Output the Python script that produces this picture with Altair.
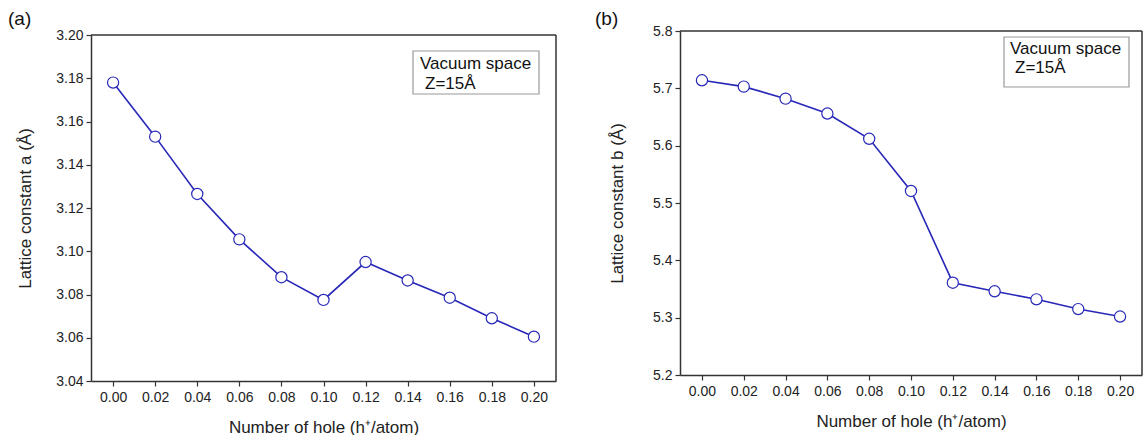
import altair as alt
import pandas as pd

holes = [0.00, 0.02, 0.04, 0.06, 0.08, 0.10, 0.12, 0.14, 0.16, 0.18, 0.20]
lattice_a = [3.178, 3.153, 3.1265, 3.1055, 3.088, 3.0775, 3.095, 3.0865, 3.0785, 3.069, 3.0605]
lattice_b = [5.714, 5.703, 5.682, 5.656, 5.612, 5.521, 5.361, 5.346, 5.332, 5.315, 5.302]

x_ticks = [round(i * 0.01, 2) for i in range(0, 21)]
a_ticks = [round(3.04 + i * 0.01, 2) for i in range(0, 17)]
b_ticks = [round(5.2 + i * 0.05, 2) for i in range(0, 13)]

FONT = "Liberation Sans"
LINE = "#2727b8"
DARK = "#333333"


def is_major(step):
    return f"abs(datum.value/{step} - round(datum.value/{step})) < 0.001"


def panel(yvals, ydom, yticks, ystep, yfmt, ytitle, tag, tag_x, tag_dy,
          box, txt, w, h, top, ytp):
    df = pd.DataFrame({"x": holes, "y": yvals})
    one = pd.DataFrame({"k": [0]})
    xscale = alt.Scale(domain=[-0.0105, 0.2105], nice=False, zero=False)
    yscale = alt.Scale(domain=ydom, nice=False, zero=False, range=[h, top])
    xaxis = alt.Axis(
        values=x_ticks,
        labelExpr=f"{is_major(0.02)} ? format(datum.value, '.2f') : ''",
        tickSize={"condition": {"test": is_major(0.02), "value": 5}, "value": 3},
        labelOverlap=False, labelFlush=False, grid=False,
        title="Number of hole (h\u207a/atom)", titlePadding=15,
        labelPadding=4,
    )
    yaxis = alt.Axis(
        values=yticks,
        labelExpr=f"{is_major(ystep)} ? format(datum.value, '{yfmt}') : ''",
        tickSize={"condition": {"test": is_major(ystep), "value": 5}, "value": 3},
        labelOverlap=False, labelFlush=False, grid=False,
        title=ytitle, titlePadding=ytp, labelPadding=3,
    )
    base = alt.Chart(df)
    ann = alt.Chart(one)
    line = base.mark_line(color=LINE, strokeWidth=1.6).encode(
        x=alt.X("x:Q", scale=xscale, axis=xaxis),
        y=alt.Y("y:Q", scale=yscale, axis=yaxis),
    )
    pts = base.mark_point(shape="circle", filled=True, fill="white", stroke=LINE,
                          strokeWidth=1.2, size=125, opacity=1).encode(
        x=alt.X("x:Q", scale=xscale),
        y=alt.Y("y:Q", scale=yscale),
    )
    top_rule = ann.mark_rule(color=DARK, strokeWidth=1.5).encode(
        x=alt.value(0), x2=alt.value(w), y=alt.value(top))
    right_rule = ann.mark_rule(color=DARK, strokeWidth=1.5).encode(
        x=alt.value(w), y=alt.value(top), y2=alt.value(h))
    rect = ann.mark_rect(fill="white", stroke="#999999", strokeWidth=1.2).encode(
        x=alt.value(box[0]), x2=alt.value(box[1]),
        y=alt.value(box[2]), y2=alt.value(box[3]),
    )
    t1 = ann.mark_text(text="Vacuum space", align="left", baseline="middle",
                       font=FONT, fontSize=17, fontWeight="normal", color="#111111").encode(
        x=alt.value(txt[0]), y=alt.value(txt[1]))
    t2 = ann.mark_text(text="Z=15\u00c5", align="left", baseline="middle",
                       font=FONT, fontSize=17, fontWeight="normal", color="#111111").encode(
        x=alt.value(txt[0] + 5), y=alt.value(txt[2]))
    lab = ann.mark_text(text=tag, align="left", baseline="middle",
                        font=FONT, fontSize=19, fontWeight="normal", color="#111111").encode(
        x=alt.value(tag_x), y=alt.value(tag_dy))
    return alt.layer(line, pts, top_rule, right_rule, rect, t1, t2, lab).properties(
        width=w, height=h)


left = panel(lattice_a, [3.04, 3.20], a_ticks, 0.02, ".2f",
             "Lattice constant a (\u00c5)", "(a)", -83, -12,
             (322, 448, 20, 63), (329, 33, 53), 465, 350, 4, 21)
right = panel(lattice_b, [5.2, 5.8], b_ticks, 0.1, ".1f",
              "Lattice constant b (\u00c5)", "(b)", -85, -12,
              (324, 449, 6, 56), (330, 18, 37), 462, 344, 0, 26)

chart = alt.hconcat(left, right, spacing=38).properties(
    padding={"left": 8, "top": 10, "right": 0, "bottom": 0},
    background="white",
).configure_view(
    strokeWidth=0
).configure_axis(
    domainColor=DARK, domainWidth=1.5, tickColor=DARK, tickWidth=1.2,
    labelFont=FONT, labelFontSize=14, labelColor="#222222",
    titleFont=FONT, titleFontSize=17, titleFontWeight="normal", titleColor="#222222",
)

chart.save("out.html", embed_options={"renderer": "svg", "actions": False})
